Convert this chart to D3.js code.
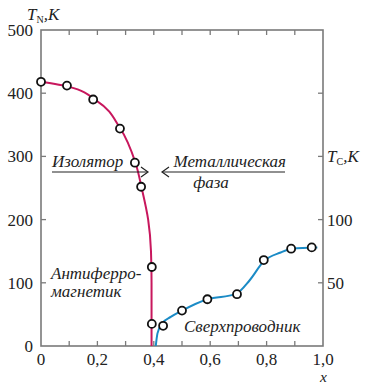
<!DOCTYPE html>
<html>
<head>
<meta charset="utf-8">
<script src="https://cdn.jsdelivr.net/npm/d3@7"></script>
<style>
  body { margin: 0; background: #fff; }
</style>
</head>
<body>
<div id="chart"></div>
<script>
// axis ticks
const xTicks = [0, 0.2, 0.4, 0.6, 0.8, 1.0];
const xMinor = [0.1, 0.3, 0.5, 0.7, 0.9];
const xTickLabels = ['0', '0,2', '0,4', '0,6', '0,8', '1,0'];
const tnTicks = [0, 100, 200, 300, 400, 500];
const tcTicks = [50, 100, 150, 200];
const tcLabeled = [50, 100];

// Neel temperature (antiferromagnet), K
const tnPtsX = [0, 0.092, 0.185, 0.28, 0.333, 0.355, 0.393, 0.393];
const tnPtsT = [418, 412, 390, 344, 290, 252, 125, 35];
const tnFitX = [0, 0.1, 0.2, 0.28, 0.335, 0.357, 0.38, 0.39, 0.392, 0.392];
const tnFitT = [418, 410, 387, 345, 290, 250, 200, 150, 100, 0];

// superconducting Tc, K
const tcPtsX = [0.433, 0.5, 0.59, 0.695, 0.79, 0.887, 0.96];
const tcPtsT = [16, 28, 37, 41, 68, 77, 78];
const tcFitX = [0.407, 0.413, 0.43, 0.46, 0.5, 0.59, 0.69, 0.74, 0.79, 0.85, 0.89, 0.98];
const tcFitT = [0, 10, 18, 23, 28, 37, 41, 52, 67, 74, 77, 78];

const W = 365, H = 386;
const L = 41, R = 323, T = 30, B = 346;
const RED = '#c8175d', BLUE = '#1b8bc6', AX = '#7a7a7a', INK = '#222';
const FONT = 'Liberation Serif';

const svg = d3.select('#chart').append('svg')
  .attr('width', W).attr('height', H);

const txt = (g) => g.append('text').attr('font-family', FONT).attr('fill', INK);

const x = d3.scaleLinear().domain([0, 1]).range([L, R]);
const yN = d3.scaleLinear().domain([0, 500]).range([B, T]);
const yC = d3.scaleLinear().domain([0, 250]).range([B, T]);

// frame
svg.append('rect')
  .attr('x', L).attr('y', T).attr('width', R - L).attr('height', B - T)
  .attr('fill', 'none').attr('stroke', AX).attr('stroke-width', 1.6);

const tk = 5;
const allX = xTicks.concat(xMinor).filter(v => v > 0 && v < 1);
svg.append('g').selectAll('line').data(allX).join('line')
  .attr('x1', d => x(d)).attr('x2', d => x(d))
  .attr('y1', B).attr('y2', B - tk)
  .attr('stroke', AX).attr('stroke-width', 1.3);
svg.append('g').selectAll('line').data(allX).join('line')
  .attr('x1', d => x(d)).attr('x2', d => x(d))
  .attr('y1', T).attr('y2', T + tk)
  .attr('stroke', AX).attr('stroke-width', 1.3);
svg.append('g').selectAll('line').data(tnTicks.filter(v => v > 0 && v < 500)).join('line')
  .attr('x1', L).attr('x2', L + tk)
  .attr('y1', d => yN(d)).attr('y2', d => yN(d))
  .attr('stroke', AX).attr('stroke-width', 1.3);
svg.append('g').selectAll('line').data(tcTicks).join('line')
  .attr('x1', R).attr('x2', R - tk)
  .attr('y1', d => yC(d)).attr('y2', d => yC(d))
  .attr('stroke', AX).attr('stroke-width', 1.3);

// tick labels
svg.append('g').attr('font-family', FONT).attr('fill', INK).attr('font-size', 17)
  .selectAll('text').data(xTicks).join('text')
  .attr('x', d => x(d)).attr('y', 365)
  .attr('text-anchor', 'middle')
  .text((d, i) => xTickLabels[i]);
svg.append('g').attr('font-family', FONT).attr('fill', INK).attr('font-size', 17)
  .selectAll('text').data(tnTicks).join('text')
  .attr('x', 33).attr('y', d => yN(d) + 6)
  .attr('text-anchor', 'end')
  .text(d => d);
svg.append('g').attr('font-family', FONT).attr('fill', INK).attr('font-size', 17)
  .selectAll('text').data(tcLabeled).join('text')
  .attr('x', 327).attr('y', d => yC(d) + 6)
  .text(d => d);

// axis titles
const tn = txt(svg).attr('font-style', 'italic').attr('x', 27).attr('y', 20).attr('font-size', 17);
tn.append('tspan').text('T');
tn.append('tspan').attr('font-size', 10).attr('dy', 3).attr('font-style', 'normal').text('N');
tn.append('tspan').attr('dy', -3).text(',K');
const tc = txt(svg).attr('font-style', 'italic').attr('x', 327).attr('y', yC(150) + 6).attr('font-size', 17);
tc.append('tspan').text('T');
tc.append('tspan').attr('font-size', 10).attr('dy', 3).attr('font-style', 'normal').text('C');
tc.append('tspan').attr('dy', -3).text(',K');
txt(svg).attr('font-style', 'italic').attr('x', 320).attr('y', 382)
  .attr('font-size', 15.5).text('x');

// curves
const tnFit = tnFitX.map((v, i) => [v, tnFitT[i]]);
const tcFit = tcFitX.map((v, i) => [v, tcFitT[i]]);
svg.append('path').datum(tnFit)
  .attr('d', d3.line().x(d => x(d[0])).y(d => yN(d[1])).curve(d3.curveMonotoneY))
  .attr('fill', 'none').attr('stroke', RED).attr('stroke-width', 2);
svg.append('path').datum(tcFit)
  .attr('d', d3.line().x(d => x(d[0])).y(d => yC(d[1])).curve(d3.curveMonotoneX))
  .attr('fill', 'none').attr('stroke', BLUE).attr('stroke-width', 2);

// phase labels with arrows
const arrows = svg.append('g').attr('stroke', INK).attr('stroke-width', 1.2).attr('fill', 'none');
arrows.append('line').attr('x1', 52).attr('x2', 147).attr('y1', 172).attr('y2', 172);
arrows.append('path').attr('d', 'M141,167 L148,172 L141,177');
arrows.append('line').attr('x1', 162).attr('x2', 285).attr('y1', 172).attr('y2', 172);
arrows.append('path').attr('d', 'M169,167 L162,172 L169,177');

const lab = (tx, ty, s, anchor) => txt(svg).attr('font-style', 'italic')
  .attr('x', tx).attr('y', ty).attr('font-size', 17)
  .attr('text-anchor', anchor || 'start').text(s);
lab(52, 167, 'Изолятор');
lab(286, 167, 'Металлическая', 'end');
lab(211, 188, 'фаза', 'middle');
lab(51, 279, 'Антиферро-');
lab(51, 297, 'магнетик');
lab(184, 332, 'Сверхпроводник');

// markers
svg.append('g').selectAll('circle').data(tnPtsX).join('circle')
  .attr('cx', d => x(d)).attr('cy', (d, i) => yN(tnPtsT[i])).attr('r', 4)
  .attr('fill', '#fff').attr('stroke', '#111').attr('stroke-width', 1.8);
svg.append('g').selectAll('circle').data(tcPtsX).join('circle')
  .attr('cx', d => x(d)).attr('cy', (d, i) => yC(tcPtsT[i])).attr('r', 4)
  .attr('fill', '#fff').attr('stroke', '#111').attr('stroke-width', 1.8);
</script>
</body>
</html>
